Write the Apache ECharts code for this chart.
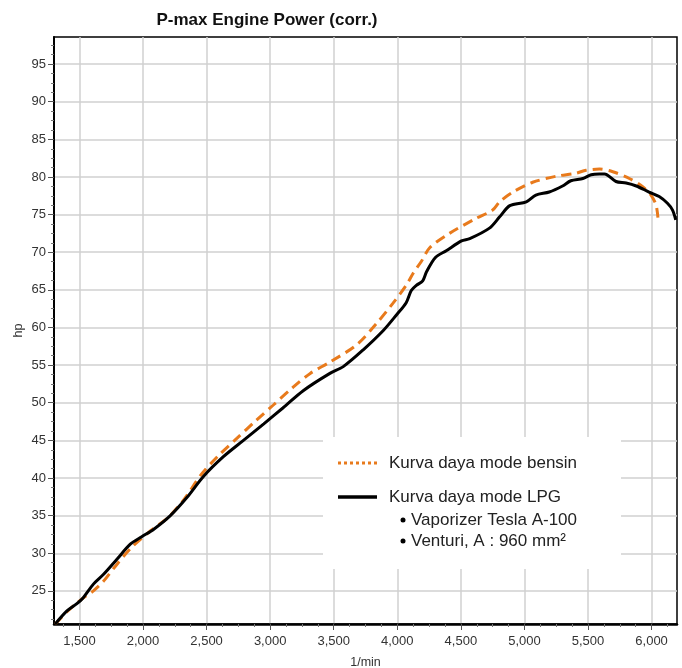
<!DOCTYPE html>
<html>
<head>
<meta charset="utf-8">
<script src="https://cdn.jsdelivr.net/npm/echarts@6/dist/echarts.min.js"></script>
<style>
  html, body { margin: 0; padding: 0; background: #fff; }
  #chart { width: 682px; height: 668px; }
</style>
</head>
<body>
<div id="chart"></div>
<script>
// LPG mode (black solid)
var lpgRpm = [1310, 1400, 1480, 1530, 1610, 1690, 1795, 1900, 1990, 2085, 2215, 2345, 2475, 2630, 2790, 2950, 3100, 3260, 3470, 3575, 3730, 3890, 3995, 4070, 4110, 4150, 4200, 4230, 4300, 4385, 4505, 4570, 4725, 4805, 4885, 5015, 5090, 5195, 5300, 5365, 5460, 5525, 5590, 5630, 5720, 5800, 5880, 5980, 6060, 6125, 6165, 6190];
var lpgHp = [20.6, 22.3, 23.3, 24.1, 25.9, 27.2, 29.2, 31.2, 32.2, 33.2, 35.0, 37.4, 40.2, 42.8, 45.0, 47.2, 49.3, 51.6, 53.9, 54.8, 57.0, 59.6, 61.7, 63.3, 64.9, 65.6, 66.2, 67.4, 69.3, 70.2, 71.5, 71.8, 73.2, 74.7, 76.2, 76.7, 77.6, 78.0, 78.8, 79.5, 79.8, 80.3, 80.4, 80.4, 79.4, 79.2, 78.8, 78.0, 77.4, 76.5, 75.6, 74.3];

// bensin mode (orange dashed)
var bensinRpm = [1310, 1400, 1480, 1550, 1610, 1690, 1770, 1900, 2060, 2200, 2320, 2460, 2595, 2740, 2880, 3025, 3170, 3315, 3470, 3680, 3835, 3965, 4070, 4125, 4190, 4255, 4410, 4620, 4750, 4805, 4910, 5065, 5250, 5405, 5485, 5590, 5695, 5825, 5930, 5995, 6035, 6050];
var bensinHp = [20.6, 22.2, 23.4, 24.3, 25.0, 26.3, 28.0, 30.6, 33.0, 34.8, 37.1, 40.5, 43.0, 45.3, 47.5, 49.7, 51.9, 53.9, 55.4, 57.7, 60.5, 63.2, 65.6, 67.2, 68.8, 70.6, 72.5, 74.5, 75.6, 76.7, 78.0, 79.3, 80.1, 80.5, 80.9, 81.05, 80.7, 79.8, 78.7, 77.6, 76.3, 74.6];

var xTicks = [1500, 2000, 2500, 3000, 3500, 4000, 4500, 5000, 5500, 6000];
var yTicks = [25, 30, 35, 40, 45, 50, 55, 60, 65, 70, 75, 80, 85, 90, 95];

var xMin = 1300, xMax = 6200;
var yMin = 20.6, yMax = 98.6;

function zip(a, b) {
  var out = [];
  for (var i = 0; i < a.length; i++) out.push([a[i], b[i]]);
  return out;
}

// minor tick positions (4 per major step)
var xMinor = [];
for (var v = 1375; v <= 6125; v += 125) if (v % 500 !== 0) xMinor.push(v);
var yMinor = [];
for (var w = 21.25; w <= 98.5; w += 1.25) if (w % 5 !== 0) yMinor.push(w);

var font = "'Liberation Sans', Arial, sans-serif";
var labelColor = "#333";

var myChart = echarts.init(document.getElementById("chart"));
var option = {
  backgroundColor: "#fff",
  animation: false,
  title: {
    text: "P-max Engine Power (corr.)",
    left: 262,
    top: 7,
    textAlign: "center",
    textStyle: { fontFamily: font, fontSize: 17, fontWeight: "bold", color: "#111" }
  },
  grid: {
    left: 54,
    right: 5,
    top: 37,
    bottom: 44,
    outerBoundsMode: "none",
    show: true,
    borderColor: "#000",
    borderWidth: 1.5,
    backgroundColor: "#fff"
  },
  xAxis: [
    {
      type: "value",
      min: xMin,
      max: xMax,
      name: "1/min",
      nameLocation: "middle",
      nameGap: 32,
      nameMoveOverlap: false,
      nameTextStyle: { fontFamily: font, fontSize: 12.5, color: labelColor },
      axisLine: { show: true, lineStyle: { color: "#000", width: 2.5 } },
      axisTick: { show: true, length: 6, customValues: xTicks, lineStyle: { color: "#555" } },
      axisLabel: {
        customValues: xTicks,
        margin: 11,
        fontFamily: font,
        fontSize: 13,
        color: labelColor,
        formatter: function (val) {
          return String(val).replace(/\B(?=(\d{3})+(?!\d))/g, ",");
        }
      },
      splitLine: { show: true, lineStyle: { color: "#d0d0d0", width: 1.5 } }
    },
    {
      type: "value",
      min: xMin,
      max: xMax,
      position: "bottom",
      axisLine: { show: false },
      axisTick: { show: true, length: 3, customValues: xMinor, lineStyle: { color: "#777" } },
      axisLabel: { show: false },
      splitLine: { show: false }
    }
  ],
  yAxis: [
    {
      type: "value",
      min: yMin,
      max: yMax,
      name: "hp",
      nameLocation: "middle",
      nameGap: 29,
      nameMoveOverlap: false,
      nameTextStyle: { fontFamily: font, fontSize: 12.5, color: labelColor },
      axisLine: { show: true, lineStyle: { color: "#000", width: 2 } },
      axisTick: { show: true, length: 6, customValues: yTicks, lineStyle: { color: "#555" } },
      axisLabel: {
        customValues: yTicks,
        margin: 8,
        fontFamily: font,
        fontSize: 13,
        color: labelColor
      },
      splitLine: { show: true, lineStyle: { color: "#d0d0d0", width: 1.5 } }
    },
    {
      type: "value",
      min: yMin,
      max: yMax,
      position: "left",
      axisLine: { show: false },
      axisTick: { show: true, length: 3, customValues: yMinor, lineStyle: { color: "#777" } },
      axisLabel: { show: false },
      splitLine: { show: false }
    }
  ],
  series: [
    {
      name: "Kurva daya mode bensin",
      type: "line",
      data: zip(bensinRpm, bensinHp),
      showSymbol: false,
      smooth: 0.3,
      z: 3,
      lineStyle: { color: "#e87a1c", width: 3, type: [10, 6] }
    },
    {
      name: "Kurva daya mode LPG",
      type: "line",
      data: zip(lpgRpm, lpgHp),
      showSymbol: false,
      smooth: 0.3,
      z: 4,
      lineStyle: { color: "#000", width: 3 }
    }
  ],
  graphic: [
    { type: "rect", z: 10, shape: { x: 323, y: 437, width: 298, height: 132 }, style: { fill: "#fff" } },
    { type: "line", z: 11, shape: { x1: 338, y1: 463, x2: 377, y2: 463 }, style: { stroke: "#e87a1c", lineWidth: 3, lineDash: [3, 3] } },
    { type: "text", z: 11, x: 389, y: 463, style: { text: "Kurva daya mode bensin", font: "17px " + font, fill: "#222", verticalAlign: "middle" } },
    { type: "line", z: 11, shape: { x1: 338, y1: 497, x2: 377, y2: 497 }, style: { stroke: "#000", lineWidth: 3.5 } },
    { type: "text", z: 11, x: 389, y: 497, style: { text: "Kurva daya mode LPG", font: "17px " + font, fill: "#222", verticalAlign: "middle" } },
    { type: "circle", z: 11, shape: { cx: 403, cy: 520, r: 2.5 }, style: { fill: "#000" } },
    { type: "text", z: 11, x: 411, y: 520, style: { text: "Vaporizer Tesla A-100", font: "17px " + font, fill: "#222", verticalAlign: "middle" } },
    { type: "circle", z: 11, shape: { cx: 403, cy: 541, r: 2.5 }, style: { fill: "#000" } },
    { type: "text", z: 11, x: 411, y: 541, style: { text: "Venturi, A : 960 mm²", font: "17px " + font, fill: "#222", verticalAlign: "middle" } }
  ]
};
myChart.setOption(option);
</script>
</body>
</html>
